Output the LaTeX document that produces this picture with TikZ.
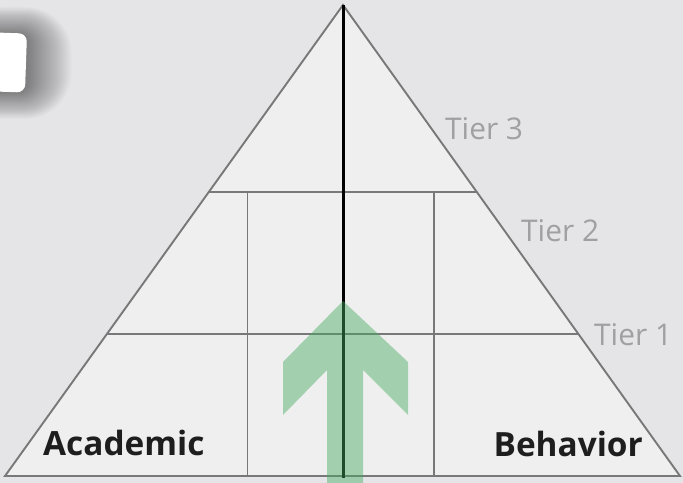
\documentclass[tikz,border=0pt]{standalone}
\usepackage{fontspec}
\setmainfont{Open Sans}
\usetikzlibrary{calc}
\definecolor{bgc}{RGB}{229,229,231}
\definecolor{tri}{RGB}{239,239,239}
\definecolor{gridc}{RGB}{120,120,120}
\definecolor{tierc}{RGB}{160,160,162}
\definecolor{labc}{RGB}{30,30,30}
\definecolor{arrc}{RGB}{70,172,98}
\tikzset{
  gridline/.style={draw=gridc, line width=1.9bp},
  tiertext/.style={text=tierc, inner sep=0pt, anchor=base west, font=\fontsize{30}{30}\selectfont},
  labtext/.style={text=labc, inner sep=0pt, font=\bfseries\fontsize{33.5}{33.5}\selectfont},
  centerline/.style={draw=black, line width=3bp},
  uparrow/.style={fill=arrc, fill opacity=0.45}
}
\begin{document}
\begin{tikzpicture}[x=1bp,y=-1bp]
\useasboundingbox (0,0) rectangle (683,483);
\clip (0,0) rectangle (683,483);
\fill[bgc] (0,0) rectangle (683,483);
% shadowed card at top-left
\foreach \i in {1,...,30}{
  \fill[black, opacity=0.014, rounded corners={10+1.2*\i}]
    (-40,{34-0.9*\i}) rectangle ({28+1.45*\i},{92+0.9*\i});
}
\fill[white, rounded corners=8bp, rotate around={-2:(10,62)}] (-20,33) rectangle (26,92);
% triangle
\coordinate (A) at (343,5);
\coordinate (BL) at (5,476);
\coordinate (BR) at (680,476);
\fill[tri] (A) -- (BL) -- (BR) -- cycle;
\coordinate (T3L) at ($(A)!0.397!(BL)$);
\coordinate (T3R) at ($(A)!0.397!(BR)$);
\coordinate (T1L) at ($(A)!0.6985!(BL)$);
\coordinate (T1R) at ($(A)!0.6985!(BR)$);
\coordinate (V1T) at (247.5,192);
\coordinate (V1B) at (247.5,476);
\coordinate (V2T) at (434,192);
\coordinate (V2B) at (434,476);
\coordinate (CB) at (343,478);
\draw[gridline, line join=miter] (A) -- (BL) -- (BR) -- cycle;
\draw[gridline] (T3L) -- (T3R);
\draw[gridline] (T1L) -- (T1R);
\draw[gridline] (V1T) -- (V1B);
\draw[gridline] (V2T) -- (V2B);
\draw[centerline] (A) -- (CB);
% green arrow
\fill[uparrow] (343,301) -- (283,362) -- (283,415) -- (327,370) -- (327,490)
  -- (363,490) -- (363,370) -- (408,415) -- (408,362) -- cycle;
% labels
\node[tiertext] (t3) at (445,140) {Tier 3};
\node[tiertext] (t2) at (521,241.5) {Tier 2};
\node[tiertext] (t1) at (594,345) {Tier 1};
\node[labtext, anchor=base west] (acad) at (43,455.5) {Academic};
\node[labtext, anchor=base east] (beh) at (643,456.5) {Behavior};
\end{tikzpicture}
\end{document}
